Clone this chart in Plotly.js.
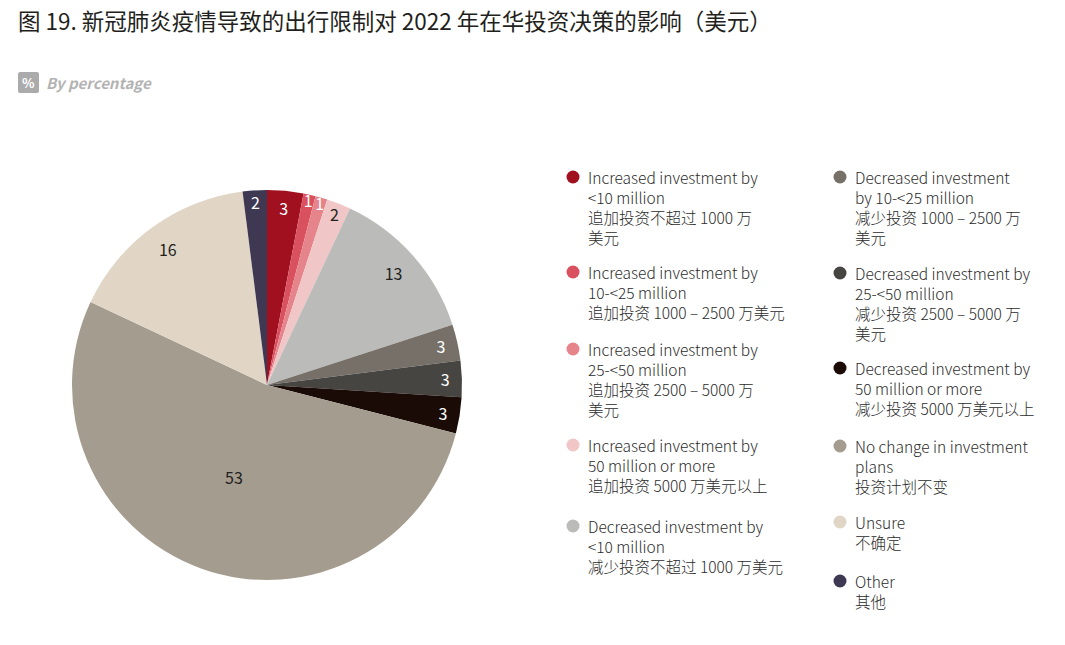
<!DOCTYPE html>
<html><head><meta charset="utf-8">
<script src="https://cdn.plot.ly/plotly-3.0.1.min.js"></script>
<style>html,body{margin:0;padding:0;background:#fff;}#chart{width:1065px;height:645px;}</style>
</head><body><div id="chart"></div>
<script>
// ---- data ----
const categoriesEn = [
  "Increased investment by<br>&lt;10 million",
  "Increased investment by<br>10-&lt;25 million",
  "Increased investment by<br>25-&lt;50 million",
  "Increased investment by<br>50 million or more",
  "Decreased investment by<br>&lt;10 million",
  "Decreased investment<br>by 10-&lt;25 million",
  "Decreased investment by<br>25-&lt;50 million",
  "Decreased investment by<br>50 million or more",
  "No change in investment<br>plans",
  "Unsure",
  "Other"
];
const categoriesZh = [
  "追加投资不超过 1000 万<br>美元",
  "追加投资 1000 – 2500 万美元",
  "追加投资 2500 – 5000 万<br>美元",
  "追加投资 5000 万美元以上",
  "减少投资不超过 1000 万美元",
  "减少投资 1000 – 2500 万<br>美元",
  "减少投资 2500 – 5000 万<br>美元",
  "减少投资 5000 万美元以上",
  "投资计划不变",
  "不确定",
  "其他"
];
const values = [3, 1, 1, 2, 13, 3, 3, 3, 53, 16, 2];
const colors = ["#A1101F","#D9505F","#E5858B","#F0C6C6","#BBBBBA","#777069","#464542","#1B0B07","#A49C8E","#E1D6C6","#3E3852"];
const textColors = ["#fff","#fff","#fff","#222","#222","#fff","#fff","#fff","#222","#222","#fff"];

const titleText = "图 19. 新冠肺炎疫情导致的出行限制对 2022 年在华投资决策的影响（美元）";
const subtitleText = "By percentage";

// ---- layout helpers ----
const W = 1065, H = 645;
const px = x => x / W;
const py = y => 1 - y / H;
const FONT = "Noto Sans CJK SC, Noto Sans, sans-serif";

const legendCols = [0,0,0,0,0,1,1,1,1,1,1];
const legendTop = [177, 272, 349, 445, 526, 177, 273, 368, 446, 522, 581];
const colMarkerX = [573, 840];
const colTextX = [586, 853];

const annotations = [];
const shapes = [];

// title
annotations.push({xref:'paper', yref:'paper', x:px(16), y:py(20), xanchor:'left', yanchor:'middle',
  text:titleText, showarrow:false, font:{family:FONT, size:22.5, weight:400, color:'#231F20'}});
// subtitle badge
shapes.push({type:'path', xref:'paper', yref:'paper',
  path:`M ${px(20)} ${py(72)} L ${px(37)} ${py(72)} Q ${px(39)} ${py(72)} ${px(39)} ${py(74)} L ${px(39)} ${py(91)} Q ${px(39)} ${py(93)} ${px(37)} ${py(93)} L ${px(20)} ${py(93)} Q ${px(18)} ${py(93)} ${px(18)} ${py(91)} L ${px(18)} ${py(74)} Q ${px(18)} ${py(72)} ${px(20)} ${py(72)} Z`,
  fillcolor:'#ABABAB', line:{width:0}});
annotations.push({xref:'paper', yref:'paper', x:px(28.5), y:py(82.5), xanchor:'center', yanchor:'middle',
  text:'<b>%</b>', showarrow:false, font:{family:FONT, size:13, color:'#fff'}});
annotations.push({xref:'paper', yref:'paper', x:px(44), y:py(82), xanchor:'left', yanchor:'middle',
  text:'<b><i>'+subtitleText+'</i></b>', showarrow:false, font:{family:FONT, size:15, color:'#B3B3B3'}});

// legend
for (let i = 0; i < values.length; i++) {
  const c = legendCols[i];
  const y0 = legendTop[i];
  shapes.push({type:'circle', xref:'paper', yref:'paper', xsizemode:'pixel', ysizemode:'pixel',
    xanchor:px(colMarkerX[c]), yanchor:py(y0), x0:-6.5, x1:6.5, y0:-6.5, y1:6.5,
    fillcolor:colors[i], line:{width:0}});
  annotations.push({xref:'paper', yref:'paper', x:px(colTextX[c]), y:py(y0 - 13), xanchor:'left', yanchor:'top',
    align:'left', text:categoriesEn[i] + '<br>' + categoriesZh[i], showarrow:false,
    font:{family:FONT, size:15.5, weight:300, color:'#2B2B2B'}});
}

const domain = {x:[px(72), px(462)], y:[py(580), py(190)]};

// base pie (colours only)
const basePie = {
  type:'pie', values: values, labels: categoriesEn, sort:false, direction:'clockwise', rotation:0,
  marker:{colors:colors, line:{width:0}}, textinfo:'none', showlegend:false, domain:domain
};
// outer ring labels (all but the largest slice)
const maxV = Math.max(...values);
const ringText = values.map(v => v === maxV ? '' : String(v));
const centreText = values.map(v => v === maxV ? String(v) : '');
const ringPie = {
  type:'pie', values: values, labels: categoriesEn, sort:false, direction:'clockwise', rotation:0,
  hole:0.73, marker:{colors:values.map(() => 'rgba(0,0,0,0)'), line:{width:0}},
  text: ringText, textinfo:'text', textposition:'inside', insidetextorientation:'horizontal',
  textfont:{family:FONT, size:16, color:textColors}, showlegend:false, domain:domain
};
const centrePie = {
  type:'pie', values: values, labels: categoriesEn, sort:false, direction:'clockwise', rotation:0,
  marker:{colors:values.map(() => 'rgba(0,0,0,0)'), line:{width:0}},
  text: centreText, textinfo:'text', textposition:'inside', insidetextorientation:'horizontal',
  textfont:{family:FONT, size:16, color:textColors}, showlegend:false, domain:domain
};

const layout = {
  width:W, height:H,
  margin:{l:0, r:0, t:0, b:0},
  paper_bgcolor:'#fff',
  showlegend:false,
  uniformtext:{mode:'show', minsize:16},
  annotations:annotations,
  shapes:shapes,
  font:{family:FONT}
};

Plotly.newPlot('chart', [basePie, ringPie, centrePie], layout, {displayModeBar:false, staticPlot:true});
</script>
</body></html>
